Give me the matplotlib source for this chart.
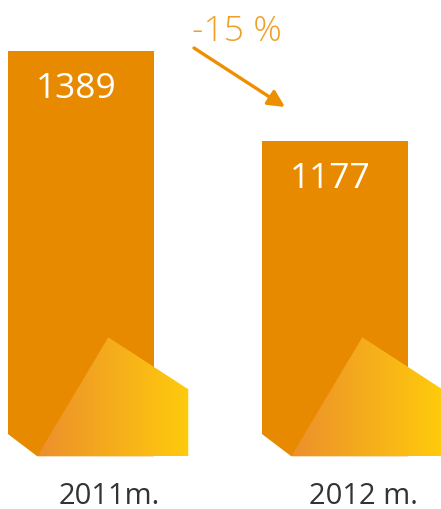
import numpy as np
import matplotlib
matplotlib.use("Agg")
import matplotlib.pyplot as plt
from matplotlib.patches import Polygon

years = ["2011m.", "2012 m."]
values = [1389, 1177]
change_label = "-15 %"

bar_color = "#E88A00"
grad_left = np.array([236, 143, 44]) / 255
grad_right = np.array([255, 203, 12]) / 255

plt.rcParams['font.family'] = ['Open Sans', 'DejaVu Sans']

W, H = 441, 509
fig = plt.figure(figsize=(W / 100, H / 100), dpi=100)
ax = fig.add_axes([0, 0, 1, 1])
ax.set_xlim(-0.319, 1.417)
ax.set_ylim(311, 1510)
ax.axis("off")

# size of one pixel in data units
px = (1.417 + 0.319) / W
py = (1510 - 311) / H

pos = np.arange(len(values))
width = 0.573
base = 487

ax.bar(pos, np.array(values) - base, bottom=base, width=width,
       color=bar_color, linewidth=0, zorder=2)

for i, v in enumerate(values):
    L = pos[i] - width / 2
    R = pos[i] + width / 2
    # bevelled foot of the bar (overlaps the bar a little to hide the seam)
    foot = Polygon([(L, base + 2 * py), (L, base), (L + 29 * px, base - 22 * py),
                    (R, base - 22 * py), (R, base + 2 * py)],
                   closed=True, color=bar_color, lw=0, zorder=2)
    ax.add_patch(foot)

    # folded corner with gradient
    pts = [(L + 100 * px, base + 97 * py), (L + 180 * px, base + 45 * py),
           (L + 180 * px, base - 22 * py), (L + 29 * px, base - 22 * py)]
    fold = Polygon(pts, closed=True, facecolor="none", lw=0, zorder=3)
    ax.add_patch(fold)
    xs = [p[0] for p in pts]
    ys = [p[1] for p in pts]
    t = np.linspace(0, 1, 256)
    grad = grad_left[None, :] * (1 - t[:, None]) + grad_right[None, :] * t[:, None]
    img = ax.imshow(grad[None, :, :], extent=[min(xs), max(xs), min(ys), max(ys)],
                    aspect="auto", zorder=3, interpolation="bilinear")
    img.set_clip_path(fold)

    ax.text(L + 28 * px, v - 47 * py, str(v), color="white", fontsize=25.5,
            ha="left", va="baseline", zorder=4)
    ax.text(pos[i] + 28 * px, 311 + 5 * py, years[i], color="#333333",
            fontsize=21, ha="center", va="baseline")

ax.set_xlim(-0.319, 1.417)
ax.set_ylim(311, 1510)

# change arrow
fig.text(192 / W, (H - 41) / H, change_label, color="#F0A02A", fontsize=25.5,
         fontweight="light", ha="left", va="baseline")
ax.annotate("", xy=(285, H - 107), xycoords="figure pixels",
            xytext=(194, H - 48), textcoords="figure pixels",
            arrowprops=dict(arrowstyle="-|>", color="#EE8F00", lw=2.4,
                            mutation_scale=25, shrinkA=0, shrinkB=0))

plt.savefig("out.png", dpi=100)
